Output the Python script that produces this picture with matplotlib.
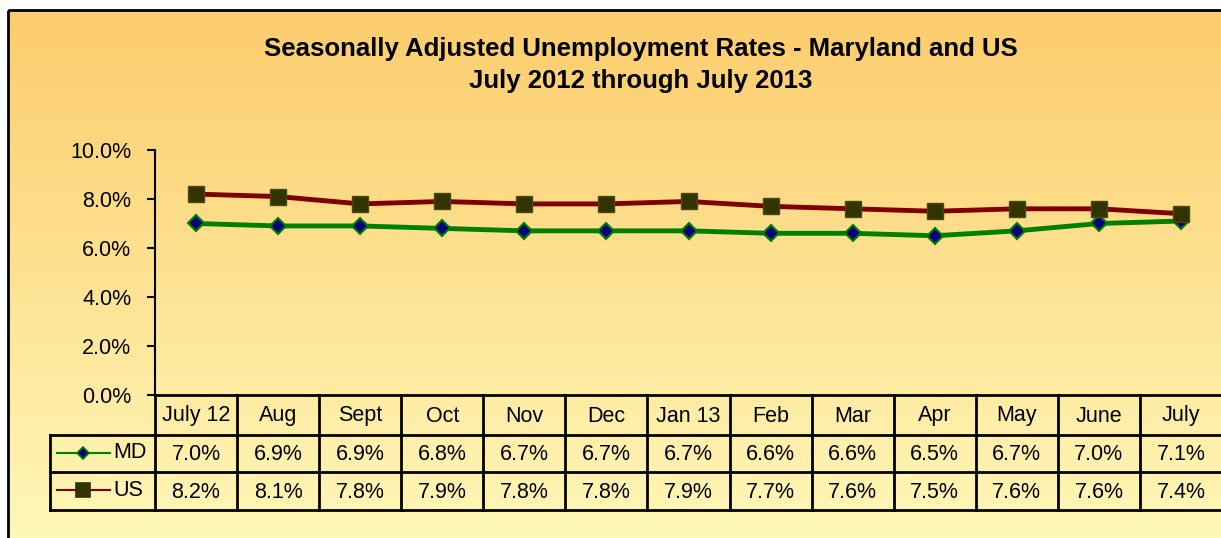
import numpy as np
import matplotlib
matplotlib.use('Agg')
import matplotlib.pyplot as plt
from matplotlib.patches import Rectangle
from matplotlib.lines import Line2D
import matplotlib.transforms as mtrans

plt.rcParams['font.family'] = ['Liberation Sans', 'DejaVu Sans']

# 数据
months = ['July 12', 'Aug', 'Sept', 'Oct', 'Nov', 'Dec', 'Jan 13',
          'Feb', 'Mar', 'Apr', 'May', 'June', 'July']
md = [7.0, 6.9, 6.9, 6.8, 6.7, 6.7, 6.7, 6.6, 6.6, 6.5, 6.7, 7.0, 7.1]
us = [8.2, 8.1, 7.8, 7.9, 7.8, 7.8, 7.9, 7.7, 7.6, 7.5, 7.6, 7.6, 7.4]
yticks = [0, 2, 4, 6, 8, 10]

W, H = 1221, 538
fig = plt.figure(figsize=(W / 100, H / 100), dpi=100, facecolor='white')

# 背景渐变 + 外框
bg = fig.add_axes([0, 0, 1, 1])
bg.set_xlim(0, W)
bg.set_ylim(H, 0)
bg.axis('off')
top_c = np.array([252, 204, 108]) / 255
bot_c = np.array([255, 248, 185]) / 255
t = np.linspace(0, 1, 256)[:, None]
grad = top_c[None, None, :] * (1 - t[:, :, None]) + bot_c[None, None, :] * t[:, :, None]
bg.imshow(grad, extent=[8, W + 5, H + 5, 10], aspect='auto', zorder=0)
bg.add_patch(Rectangle((8, 10), W, H, fill=False, edgecolor='black', linewidth=2, zorder=1))

# 标题
bg.text(641, 49, 'Seasonally Adjusted Unemployment Rates - Maryland and US',
        ha='center', va='center', fontsize=18.5, fontweight='bold')
bg.text(641, 81, 'July 2012 through July 2013',
        ha='center', va='center', fontsize=18.5, fontweight='bold')

# 主图
ax_l, ax_r = 155, 1222
ax_t, ax_b = 150, 395
ax = fig.add_axes([ax_l / W, (H - ax_b) / H, (ax_r - ax_l) / W, (ax_b - ax_t) / H])
ax.patch.set_alpha(0)
x = np.arange(len(months))
ax.plot(x, md, color='#008000', linewidth=3.5, marker='D', markersize=8,
        markerfacecolor='#000080', markeredgecolor='#008000', markeredgewidth=1.5,
        clip_on=False, zorder=3)
ax.plot(x, us, color='#800000', linewidth=3.5, marker='s', markersize=12,
        markerfacecolor='#333300', markeredgecolor='#4a4a10', markeredgewidth=1,
        clip_on=False, zorder=3)
ax.set_xlim(-0.5, len(months) - 0.5)
ax.set_ylim(0, 10)
ax.set_yticks(yticks)
ax.set_yticklabels([f'{v:.1f}%' for v in yticks], fontsize=15.5)
ax.tick_params(axis='y', length=6, width=1.5, pad=11, color='black')
ax.set_xticks([])
for s in ['top', 'right']:
    ax.spines[s].set_visible(False)
ax.spines['left'].set_linewidth(1.5)
ax.spines['bottom'].set_linewidth(2)

# 数据表 (x 用数据坐标, y 用像素换算的轴坐标)
tr = mtrans.blended_transform_factory(ax.transData, ax.transAxes)
hpx = ax_b - ax_t
def ya(py):
    return (ax_b - py) / hpx

col_w = (ax_r - ax_l) / len(months)
leg_x0 = -0.5 - (ax_l - 50) / col_w
rows_y = [395, 435, 472, 510]
lw = 2
# 竖线
for i in range(len(months) + 1):
    ax.add_line(Line2D([i - 0.5, i - 0.5], [ya(rows_y[0]), ya(rows_y[3])],
                       transform=tr, color='black', lw=lw, clip_on=False))
ax.add_line(Line2D([leg_x0, leg_x0], [ya(rows_y[1]), ya(rows_y[3])],
                   transform=tr, color='black', lw=lw, clip_on=False))
# 横线
for py in rows_y[1:]:
    ax.add_line(Line2D([leg_x0, len(months) - 0.5], [ya(py), ya(py)],
                       transform=tr, color='black', lw=lw, clip_on=False))

fs = 15.5
for i, m in enumerate(months):
    ax.text(i, ya(416), m, transform=tr, ha='center', va='center', fontsize=fs)
    ax.text(i, ya(455), f'{md[i]:.1f}%', transform=tr, ha='center', va='center', fontsize=fs)
    ax.text(i, ya(492), f'{us[i]:.1f}%', transform=tr, ha='center', va='center', fontsize=fs)

# 图例单元格
def px2x(px):
    return -0.5 + (px - ax_l) / col_w

for yy, name, col, mk, ms, fc, ec in [
        (453, 'MD', '#008000', 'D', 6, '#000080', '#008000'),
        (490, 'US', '#800000', 's', 10, '#333300', '#333300')]:
    ax.add_line(Line2D([px2x(57), px2x(110)], [ya(yy), ya(yy)], transform=tr,
                       color=col, lw=1.5, clip_on=False))
    ax.add_line(Line2D([px2x(83)], [ya(yy)], transform=tr, marker=mk, markersize=ms,
                       markerfacecolor=fc, markeredgecolor=ec, markeredgewidth=1.2,
                       linestyle='none', clip_on=False))
    ax.text(px2x(113), ya(yy), name, transform=tr, ha='left', va='center', fontsize=fs)

fig.savefig('out.png', dpi=100, facecolor='white')
